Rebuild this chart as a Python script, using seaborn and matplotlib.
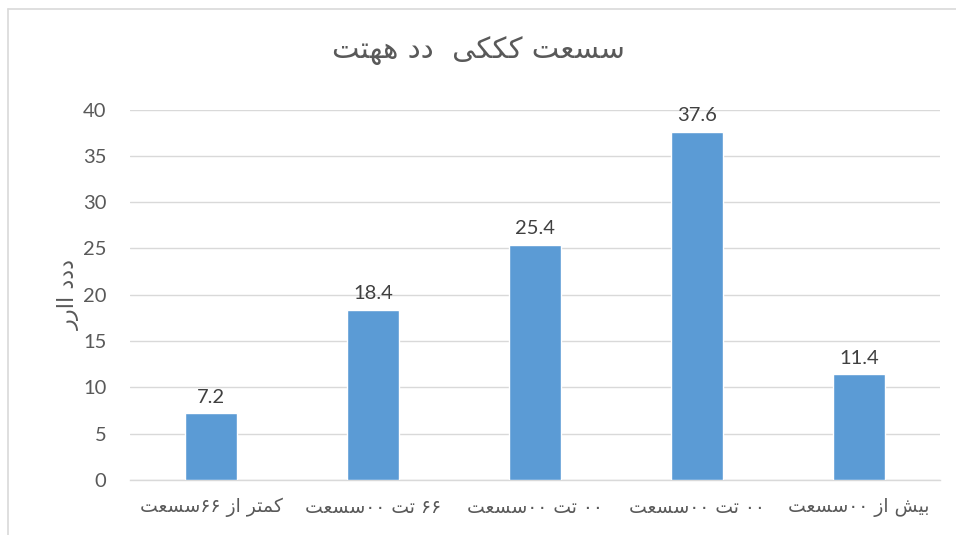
import matplotlib
matplotlib.use("Agg")
import matplotlib.pyplot as plt
import seaborn as sns
import pandas as pd

# chart data
categories = ["کمتر از ۶۶سسعت", "۶۶ تت ۰۰سسعت", "۰۰ تت ۰۰سسعت", "۰۰ تت ۰۰سسعت ", "بیش از ۰۰سسعت"]
values = [7.2, 18.4, 25.4, 37.6, 11.4]
title = "سسعت کککی  دد ههتت"
y_label = "ددد اارر"
y_ticks = [0, 5, 10, 15, 20, 25, 30, 35, 40]

# minimal Arabic/Persian shaping: (isolated, final, initial, medial)
FORMS = {
    "س": ("\uFEB1", "\uFEB2", "\uFEB3", "\uFEB4"),
    "ش": ("\uFEB5", "\uFEB6", "\uFEB7", "\uFEB8"),
    "ع": ("\uFEC9", "\uFECA", "\uFECB", "\uFECC"),
    "ت": ("\uFE95", "\uFE96", "\uFE97", "\uFE98"),
    "ب": ("\uFE8F", "\uFE90", "\uFE91", "\uFE92"),
    "ک": ("\uFB8E", "\uFB8F", "\uFB90", "\uFB91"),
    "ی": ("\uFBFC", "\uFBFD", "\uFBFE", "\uFBFF"),
    "ه": ("\uFEE9", "\uFEEA", "\uFEEB", "\uFEEC"),
    "م": ("\uFEE1", "\uFEE2", "\uFEE3", "\uFEE4"),
    "د": ("\uFEA9", "\uFEAA", None, None),
    "ر": ("\uFEAD", "\uFEAE", None, None),
    "ز": ("\uFEAF", "\uFEB0", None, None),
    "ا": ("\uFE8D", "\uFE8E", None, None),
}


def dual(c):
    return c in FORMS and FORMS[c][2] is not None


def shape(text):
    text = text.strip()
    out = []
    for i, c in enumerate(text):
        if c not in FORMS:
            out.append(c)
            continue
        prev = text[i - 1] if i > 0 else ""
        nxt = text[i + 1] if i + 1 < len(text) else ""
        join_prev = dual(prev)
        join_next = dual(c) and nxt in FORMS
        f = FORMS[c]
        if join_prev and join_next:
            out.append(f[3])
        elif join_prev:
            out.append(f[1])
        elif join_next:
            out.append(f[2])
        else:
            out.append(f[0])
    return "".join(reversed(out))


sns.set_theme(style="white")
plt.rcParams["font.family"] = ["Lato", "DejaVu Sans"]

df = pd.DataFrame({"cat": range(len(values)), "val": values})

fig = plt.figure(figsize=(9.56, 5.35), dpi=100)
ax = fig.add_axes([0.136, 0.1028, 0.847, 0.6925])

sns.barplot(data=df, x="cat", y="val", color="#5B9BD5", saturation=1,
            width=0.32, ax=ax, zorder=3)

for i, v in enumerate(values):
    ax.text(i, v + 0.8, f"{v}", ha="center", va="bottom", fontsize=14.5,
            color="#404040", zorder=4)

ax.set_xlim(-0.5, len(values) - 0.5)
ax.set_ylim(0, 40)
ax.set_yticks(y_ticks)
ax.set_yticklabels([str(t) for t in y_ticks], fontsize=14.5, color="#595959")
ax.set_xticks(range(len(values)))
ax.set_xticklabels([shape(c) for c in categories], fontsize=13.5, color="#595959",
                   family=["DejaVu Sans"])
ax.tick_params(axis="y", length=0, pad=17)
ax.tick_params(axis="x", length=0, pad=13)

ax.grid(axis="y", color="#D9D9D9", linewidth=1, zorder=0)
for s in ["top", "right", "left"]:
    ax.spines[s].set_visible(False)
ax.spines["bottom"].set_color("#D9D9D9")
ax.spines["bottom"].set_linewidth(1)

ax.set_xlabel("")
ax.set_ylabel(shape(y_label), fontsize=16, color="#595959", labelpad=2,
              family=["DejaVu Sans"])

fig.text(0.5, 0.905, shape(title), ha="center", va="center", fontsize=21,
         color="#595959", family=["DejaVu Sans"])

# outer chart frame (top and left edges visible)
fig.add_artist(plt.Line2D([8 / 956, 1], [1 - 9 / 535, 1 - 9 / 535],
                          color="#D9D9D9", linewidth=1.2, transform=fig.transFigure))
fig.add_artist(plt.Line2D([8 / 956, 8 / 956], [0, 1 - 9 / 535],
                          color="#D9D9D9", linewidth=1.2, transform=fig.transFigure))

fig.savefig("out.png", dpi=100)
